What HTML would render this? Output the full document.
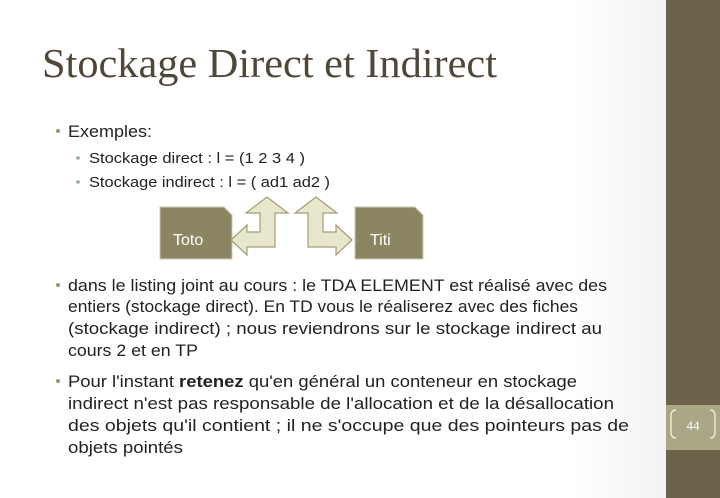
<!DOCTYPE html>
<html><head><meta charset="utf-8"><style>
html,body{margin:0;padding:0;width:720px;height:498px;overflow:hidden;background:#fff}
</style></head><body>
<svg width="720" height="498" xmlns="http://www.w3.org/2000/svg">
<defs>
<linearGradient id="bg" x1="0" x2="1" y1="0" y2="0">
<stop offset="0" stop-color="#ffffff"/><stop offset="0.8" stop-color="#ffffff"/><stop offset="1" stop-color="#ebebeb"/>
</linearGradient>
</defs>
<rect width="720" height="498" fill="url(#bg)"/>
<rect x="666" y="0" width="54" height="498" fill="#6b6249"/>
<rect x="666" y="405" width="54" height="45" fill="#a9a785"/>
<path d="M676 410 Q671 410 671 416 L671 432 Q671 438 676 438" fill="none" stroke="#f4f2e4" stroke-width="1.3"/>
<path d="M710 410 Q715 410 715 416 L715 432 Q715 438 710 438" fill="none" stroke="#f4f2e4" stroke-width="1.3"/>
<text x="693" y="430" font-family="Liberation Serif, serif" font-size="13" fill="#fff" text-anchor="middle">44</text>

<g font-family="Liberation Serif, serif" fill="#4f4838">
<text x="42" y="77" font-size="41" textLength="455" lengthAdjust="spacingAndGlyphs">Stockage Direct et Indirect</text>
</g>

<g font-family="Liberation Sans, sans-serif" fill="#222">
<circle cx="58" cy="131" r="2" fill="#9a9470"/>
<text x="68" y="137" font-size="16.5" textLength="84" lengthAdjust="spacingAndGlyphs">Exemples:</text>
<circle cx="78" cy="158" r="1.8" fill="#8fa8a8"/>
<text x="89" y="163" font-size="14.5" textLength="216" lengthAdjust="spacingAndGlyphs">Stockage direct : l = (1 2 3 4 )</text>
<circle cx="78" cy="182" r="1.8" fill="#8fa8a8"/>
<text x="89" y="187" font-size="14.5" textLength="241" lengthAdjust="spacingAndGlyphs">Stockage indirect : l = ( ad1 ad2 )</text>

<circle cx="58" cy="285" r="2" fill="#9a9470"/>
<text x="68" y="291" font-size="16.5" textLength="539" lengthAdjust="spacingAndGlyphs">dans le listing joint au cours : le TDA ELEMENT est réalisé avec des</text>
<text x="68" y="312" font-size="16.5" textLength="510" lengthAdjust="spacingAndGlyphs">entiers (stockage direct). En TD vous le réaliserez avec des fiches</text>
<text x="68" y="334" font-size="16.5" textLength="534" lengthAdjust="spacingAndGlyphs">(stockage indirect) ; nous reviendrons sur le stockage indirect au</text>
<text x="68" y="356" font-size="16.5" textLength="130" lengthAdjust="spacingAndGlyphs">cours 2 et en TP</text>
<circle cx="58" cy="381" r="2" fill="#9a9470"/>
<text x="68" y="387" font-size="16.5" textLength="509" lengthAdjust="spacingAndGlyphs">Pour l'instant <tspan font-weight="bold">retenez</tspan> qu'en général un conteneur en stockage</text>
<text x="68" y="409" font-size="16.5" textLength="546" lengthAdjust="spacingAndGlyphs">indirect n'est pas responsable de l'allocation et de la désallocation</text>
<text x="68" y="431" font-size="16.5" textLength="561" lengthAdjust="spacingAndGlyphs">des objets qu'il contient ; il ne s'occupe que des pointeurs pas de</text>
<text x="68" y="453" font-size="16.5" textLength="115" lengthAdjust="spacingAndGlyphs">objets pointés</text>
</g>

<g stroke="#cfcbb0" stroke-width="1">
<path d="M160 207 L224 207 L232 215 L232 259 L160 259 Z" fill="#8b8661"/>
<path d="M355 207 L415 207 L423 215 L423 259 L355 259 Z" fill="#8b8661"/>
</g>
<g fill="#e8e6cb" stroke="#a39d78" stroke-width="1.2" stroke-linejoin="miter">
<polygon points="231,240 247,225 247,232 260,232 260,213 246,213 267,197 288,213 275,213 275,247 247,247 247,255"/>
<polygon points="352,240 336,225 336,232 323,232 323,213 337,213 316,197 295,213 308,213 308,247 336,247 336,255"/>
</g>
<text x="173" y="245" font-family="Liberation Sans, sans-serif" font-size="16" fill="#fff">Toto</text>
<text x="370" y="245" font-family="Liberation Sans, sans-serif" font-size="16" fill="#fff">Titi</text>
</svg>
</body></html>
